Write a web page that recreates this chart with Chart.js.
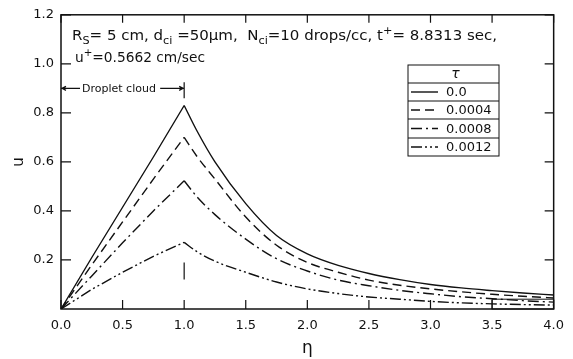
<!DOCTYPE html>
<html>
<head>
<meta charset="utf-8">
<script src="https://cdn.jsdelivr.net/npm/chart.js@4.4.0/dist/chart.umd.min.js"></script>
<style>
  html, body { margin: 0; padding: 0; background: #fff; }
  #wrap { width: 573px; height: 359px; position: relative; }
</style>
</head>
<body>
<div id="wrap"><canvas id="chart"></canvas></div>
<script>
var eta = [0, 0.25, 0.5, 0.75, 1.0, 1.1, 1.25, 1.5, 1.75, 2.0, 2.25, 2.5, 2.75, 3.0, 3.25, 3.5, 3.75, 4.0];
var peakIndex = 4; // edge of the droplet cloud, eta = 1.0

// u for each tau
var u_tau0    = [0, 0.21, 0.415, 0.62, 0.83, 0.73, 0.60, 0.43, 0.30, 0.225, 0.178, 0.145, 0.12, 0.10, 0.086, 0.075, 0.065, 0.057];
var u_tau0004 = [0, 0.18, 0.355, 0.53, 0.70, 0.625, 0.53, 0.375, 0.26, 0.19, 0.15, 0.118, 0.097, 0.082, 0.07, 0.06, 0.052, 0.045];
var u_tau0008 = [0, 0.135, 0.27, 0.40, 0.523, 0.46, 0.385, 0.285, 0.205, 0.155, 0.118, 0.095, 0.076, 0.062, 0.05, 0.042, 0.034, 0.028];
var u_tau0012 = [0, 0.08, 0.15, 0.215, 0.272, 0.235, 0.195, 0.15, 0.11, 0.082, 0.063, 0.049, 0.04, 0.031, 0.025, 0.021, 0.018, 0.016];

var tauLabels = ["0.0", "0.0004", "0.0008", "0.0012"];
var xTicks = [0, 0.5, 1.0, 1.5, 2.0, 2.5, 3.0, 3.5, 4.0];
var yTicks = [0.2, 0.4, 0.6, 0.8, 1.0, 1.2];

var seriesList = [u_tau0, u_tau0004, u_tau0008, u_tau0012];
var dashes = [[], [9, 5], [11, 4, 2, 4], [11, 3, 2, 3, 2, 3]];
var FONT = "'DejaVu Sans', sans-serif";

function points(vals, from, to) {
  var out = [];
  for (var i = from; i <= to; i++) out.push({ x: eta[i], y: vals[i] });
  return out;
}

var datasets = [];
seriesList.forEach(function (vals, k) {
  // rising part is straight, decaying part smooth
  datasets.push({
    label: tauLabels[k], data: points(vals, 0, peakIndex),
    borderColor: "#111", borderWidth: 1.4, borderDash: dashes[k],
    pointRadius: 0, tension: 0, fill: false
  });
  datasets.push({
    label: tauLabels[k], data: points(vals, peakIndex, eta.length - 1),
    borderColor: "#111", borderWidth: 1.4, borderDash: dashes[k],
    pointRadius: 0, cubicInterpolationMode: "monotone", fill: false
  });
});

// text with sub/superscripts, stretched to a given width if asked
function drawRich(ctx, parts, x, y, size, width) {
  function pieceFont(p) { return (p[1] == "n" ? size : size * 0.75) + "px " + FONT; }
  var total = 0;
  parts.forEach(function (p) { ctx.font = pieceFont(p); total += ctx.measureText(p[0]).width; });
  var sx = width ? width / total : 1;
  ctx.save();
  ctx.translate(x, y);
  ctx.scale(sx, 1);
  var cx = 0;
  parts.forEach(function (p) {
    var dy = p[1] == "sub" ? size * 0.28 : (p[1] == "sup" ? -size * 0.4 : 0);
    ctx.font = pieceFont(p);
    ctx.fillText(p[0], cx, dy);
    cx += ctx.measureText(p[0]).width;
  });
  ctx.restore();
}

var framePlugin = {
  id: "frame",
  afterDraw: function (chart) {
    var ctx = chart.ctx;
    var a = chart.chartArea;
    var xs = chart.scales.x, ys = chart.scales.y;
    ctx.save();
    ctx.strokeStyle = "#111";
    ctx.fillStyle = "#111";
    ctx.setLineDash([]);

    // box
    ctx.lineWidth = 1.5;
    ctx.strokeRect(a.left, a.top, a.right - a.left, a.bottom - a.top);

    // inward ticks
    ctx.lineWidth = 1.2;
    ctx.beginPath();
    xTicks.forEach(function (v) {
      var px = xs.getPixelForValue(v);
      ctx.moveTo(px, a.bottom); ctx.lineTo(px, a.bottom - 9);
      ctx.moveTo(px, a.top); ctx.lineTo(px, a.top + 8);
    });
    yTicks.forEach(function (v) {
      var py = ys.getPixelForValue(v);
      ctx.moveTo(a.left, py); ctx.lineTo(a.left + 10, py);
      ctx.moveTo(a.right, py); ctx.lineTo(a.right - 9, py);
    });
    ctx.stroke();

    // mark under the peaks at eta = 1
    var x1 = xs.getPixelForValue(1.0);
    ctx.beginPath();
    ctx.moveTo(x1, ys.getPixelForValue(0.19));
    ctx.lineTo(x1, ys.getPixelForValue(0.12));
    ctx.stroke();

    // small box at the lower right
    var bx = xs.getPixelForValue(3.5), by = ys.getPixelForValue(0.04);
    ctx.lineWidth = 1;
    ctx.strokeRect(bx, by, a.right - bx, a.bottom - by);

    // droplet cloud bracket
    var x0 = xs.getPixelForValue(0);
    var yb = ys.getPixelForValue(0.9);
    ctx.lineWidth = 1.2;
    ctx.beginPath();
    ctx.moveTo(x0, yb); ctx.lineTo(x0 + 19, yb);
    ctx.moveTo(x1 - 24, yb); ctx.lineTo(x1, yb);
    ctx.moveTo(x1, yb - 6); ctx.lineTo(x1, yb + 10);
    ctx.moveTo(x0 + 5, yb - 2); ctx.lineTo(x0 + 1, yb); ctx.lineTo(x0 + 5, yb + 2);
    ctx.moveTo(x1 - 5, yb - 2); ctx.lineTo(x1 - 1, yb); ctx.lineTo(x1 - 5, yb + 2);
    ctx.stroke();
    ctx.font = "11px " + FONT;
    ctx.textBaseline = "middle";
    ctx.textAlign = "left";
    ctx.fillText("Droplet cloud", x0 + 21, yb + 1);

    // parameters
    ctx.textBaseline = "alphabetic";
    drawRich(ctx, [["R", "n"], ["S", "sub"], ["= 5 cm, d", "n"], ["ci", "sub"], [" =50\u00b5m,  N", "n"],
      ["ci", "sub"], ["=10 drops/cc, t", "n"], ["+", "sup"], ["= 8.8313 sec,", "n"]], 72, 40, 14, 425);
    drawRich(ctx, [["u", "n"], ["+", "sup"], ["=0.5662 cm/sec", "n"]], 75, 62, 14, 130);

    // legend table
    var L = 408, R = 499;
    var rows = [65, 83, 101, 119, 138, 156];
    ctx.lineWidth = 1;
    ctx.strokeRect(L, rows[0], R - L, rows[5] - rows[0]);
    ctx.beginPath();
    for (var i = 1; i < 5; i++) { ctx.moveTo(L, rows[i]); ctx.lineTo(R, rows[i]); }
    ctx.stroke();
    ctx.font = "italic 14px " + FONT;
    ctx.textAlign = "center";
    ctx.textBaseline = "middle";
    ctx.fillText("\u03c4", (L + R) / 2 + 2, (rows[0] + rows[1]) / 2);
    ctx.font = "13px " + FONT;
    ctx.textAlign = "left";
    for (var k = 0; k < 4; k++) {
      var ym = (rows[k + 1] + rows[k + 2]) / 2;
      ctx.setLineDash(dashes[k]);
      ctx.lineWidth = 1.4;
      ctx.beginPath();
      ctx.moveTo(411, ym); ctx.lineTo(438, ym);
      ctx.stroke();
      ctx.setLineDash([]);
      ctx.fillText(tauLabels[k], 446, ym + 1);
    }
    ctx.restore();
  }
};

new Chart(document.getElementById("chart"), {
  type: "line",
  data: { datasets: datasets },
  options: {
    responsive: true,
    maintainAspectRatio: false,
    animation: false,
    layout: { padding: { top: 13, right: 18, left: 0, bottom: 0 } },
    plugins: { legend: { display: false }, tooltip: { enabled: false } },
    scales: {
      x: {
        type: "linear", min: 0, max: 4,
        grid: { display: false, drawTicks: false },
        border: { display: false },
        afterFit: function (s) { s.height = 50; },
        afterBuildTicks: function (s) { s.ticks = xTicks.map(function (v) { return { value: v }; }); },
        ticks: {
          color: "#111", font: { family: FONT, size: 13 }, padding: 9, maxRotation: 0,
          callback: function (v) { return v.toFixed(1); }
        },
        title: { display: true, text: "\u03b7", color: "#111", font: { family: FONT, size: 17 }, padding: { top: 0, bottom: 0 } }
      },
      y: {
        min: 0, max: 1.2,
        grid: { display: false, drawTicks: false },
        border: { display: false },
        afterFit: function (s) { s.width = 61; },
        afterBuildTicks: function (s) { s.ticks = yTicks.map(function (v) { return { value: v }; }); },
        ticks: {
          color: "#111", font: { family: FONT, size: 13 }, padding: 7,
          callback: function (v) { return v.toFixed(1); }
        },
        title: { display: true, text: "u", color: "#111", font: { family: FONT, size: 15 }, padding: { top: 10, bottom: 0 } }
      }
    }
  },
  plugins: [framePlugin]
});
</script>
</body>
</html>
